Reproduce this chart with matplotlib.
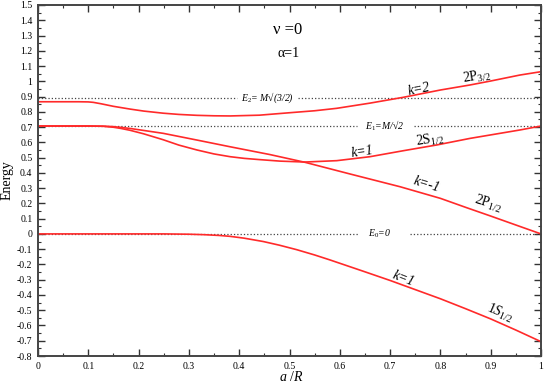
import matplotlib
matplotlib.use('Agg')
import matplotlib.pyplot as plt
from matplotlib.ticker import MultipleLocator
import numpy as np

plt.rcParams['font.family'] = ['Liberation Serif', 'DejaVu Serif']
plt.rcParams['mathtext.fontset'] = 'custom'
plt.rcParams['mathtext.rm'] = 'Liberation Serif'
plt.rcParams['mathtext.it'] = 'Liberation Serif:italic'

# curves (x = a/R, y = energy)
x_2p32 = [0, 0.05, 0.08, 0.10, 0.11, 0.125, 0.15, 0.183, 0.21, 0.249, 0.28, 0.316,
          0.35, 0.382, 0.44, 0.50, 0.55, 0.594, 0.66, 0.726, 0.80, 0.859, 0.90, 0.958, 1.0]
e_2p32 = [0.866, 0.866, 0.866, 0.865, 0.862, 0.853, 0.836, 0.818, 0.805, 0.791, 0.783, 0.777,
          0.774, 0.773, 0.778, 0.794, 0.807, 0.823, 0.857, 0.895, 0.943, 0.976, 1.002, 1.041, 1.063]

x_2s12 = [0, 0.10, 0.13, 0.15, 0.165, 0.183, 0.21, 0.249, 0.28, 0.316, 0.35, 0.382,
          0.41, 0.44, 0.481, 0.531, 0.594, 0.66, 0.726, 0.793, 0.859, 0.958, 1.0]
e_2s12 = [0.707, 0.707, 0.705, 0.699, 0.691, 0.679, 0.656, 0.617, 0.582, 0.550, 0.524, 0.506,
          0.495, 0.487, 0.477, 0.471, 0.480, 0.506, 0.545, 0.583, 0.626, 0.681, 0.707]

x_2p12 = [0, 0.10, 0.13, 0.15, 0.165, 0.183, 0.21, 0.249, 0.316, 0.382, 0.461, 0.531,
          0.62, 0.72, 0.80, 0.852, 0.90, 0.958, 1.0]
e_2p12 = [0.707, 0.707, 0.706, 0.703, 0.698, 0.691, 0.678, 0.659, 0.615, 0.571, 0.520, 0.469,
          0.393, 0.309, 0.233, 0.172, 0.117, 0.049, 0.0]

x_1s12 = [0, 0.25, 0.30, 0.33, 0.36, 0.382, 0.41, 0.448, 0.48, 0.514, 0.55, 0.58, 0.647,
          0.70, 0.75, 0.80, 0.85, 0.90, 0.95, 1.0]
e_1s12 = [0, 0, -0.002, -0.005, -0.010, -0.016, -0.028, -0.050, -0.074, -0.103, -0.138, -0.170, -0.245,
          -0.305, -0.365, -0.425, -0.490, -0.557, -0.630, -0.706]

# reference energies (dotted) and gaps left for their labels
e_levels = [0.893, 1 / np.sqrt(2), 0.0]
gaps = [(0.396, 0.517), (0.634, 0.748), (0.637, 0.740)]

red = '#ff2a2a'
fig = plt.figure(figsize=(5.45, 3.85), dpi=100)
ax = fig.add_axes([38 / 545, 1 - 356 / 385, 503 / 545, 351 / 385])

for lev, (g0, g1) in zip(e_levels, gaps):
    ax.plot([0, g0], [lev, lev], ls=':', color='#444444', lw=0.9)
    ax.plot([g1, 1], [lev, lev], ls=':', color='#444444', lw=0.9)

for xs, es in [(x_2p32, e_2p32), (x_2s12, e_2s12), (x_2p12, e_2p12), (x_1s12, e_1s12)]:
    ax.plot(xs, es, color=red, lw=1.2)


def fmt(v, p):
    if abs(v) < 1e-9:
        return '0'
    return f'{v:.1f}'.rstrip('0').rstrip('.')


ax.set_xlim(0, 1)
ax.set_ylim(-0.8, 1.5)
ax.xaxis.set_major_locator(MultipleLocator(0.1))
ax.xaxis.set_minor_locator(MultipleLocator(0.05))
ax.yaxis.set_major_locator(MultipleLocator(0.1))
ax.yaxis.set_minor_locator(MultipleLocator(0.05))
ax.xaxis.set_major_formatter(plt.FuncFormatter(fmt))
ax.yaxis.set_major_formatter(plt.FuncFormatter(fmt))
ax.tick_params(which='both', direction='in', top=True, right=True, labelsize=7, color='#333333', pad=4)
ax.tick_params(which='major', length=5, width=1.0)
ax.tick_params(which='minor', length=2.5, width=0.8)
for s in ax.spines.values():
    s.set_linewidth(1.4)
    s.set_color('#444444')

ax.text(-0.061, 0.5, 'Energy', rotation=90, ha='center', va='center', fontsize=10,
        transform=ax.transAxes)
ax.text(0.503, -0.072, r'$a$ /$R$', ha='center', va='baseline', fontsize=10,
        transform=ax.transAxes)

ax.text(0.496, 1.336, 'ν =0', ha='center', va='center', fontsize=12)
ax.text(0.499, 1.183, 'α=1', ha='center', va='center', fontsize=10)

ax.text(0.457, 0.893, r'$E_2$= $M$√(3/2)', ha='center', va='center', fontsize=7, style='italic')
ax.text(0.689, 0.709, r'$E_1$=$M$/√2', ha='center', va='center', fontsize=7, style='italic')
ax.text(0.678, 0.0, r'$E_0$=0', ha='center', va='center', fontsize=7, style='italic')

ax.text(0.757, 0.945, 'k=2', ha='center', va='center', fontsize=10, style='italic', rotation=11)
ax.text(0.873, 1.03, r'$\mathrm{2P}_{3/2}$', ha='center', va='center', fontsize=10, rotation=9)
ax.text(0.644, 0.539, 'k=1', ha='center', va='center', fontsize=10, style='italic', rotation=8)
ax.text(0.779, 0.615, r'$\mathrm{2S}_{1/2}$', ha='center', va='center', fontsize=10, rotation=8)
ax.text(0.773, 0.320, 'k=-1', ha='center', va='center', fontsize=10, style='italic', rotation=-17)
ax.text(0.895, 0.195, r'$\mathrm{2P}_{1/2}$', ha='center', va='center', fontsize=10, rotation=-18)
ax.text(0.726, -0.296, 'k=1', ha='center', va='center', fontsize=10, style='italic', rotation=-21)
ax.text(0.918, -0.517, r'$1S_{1/2}$', ha='center', va='center', fontsize=10, rotation=-23)

fig.savefig('out.png', dpi=100)
